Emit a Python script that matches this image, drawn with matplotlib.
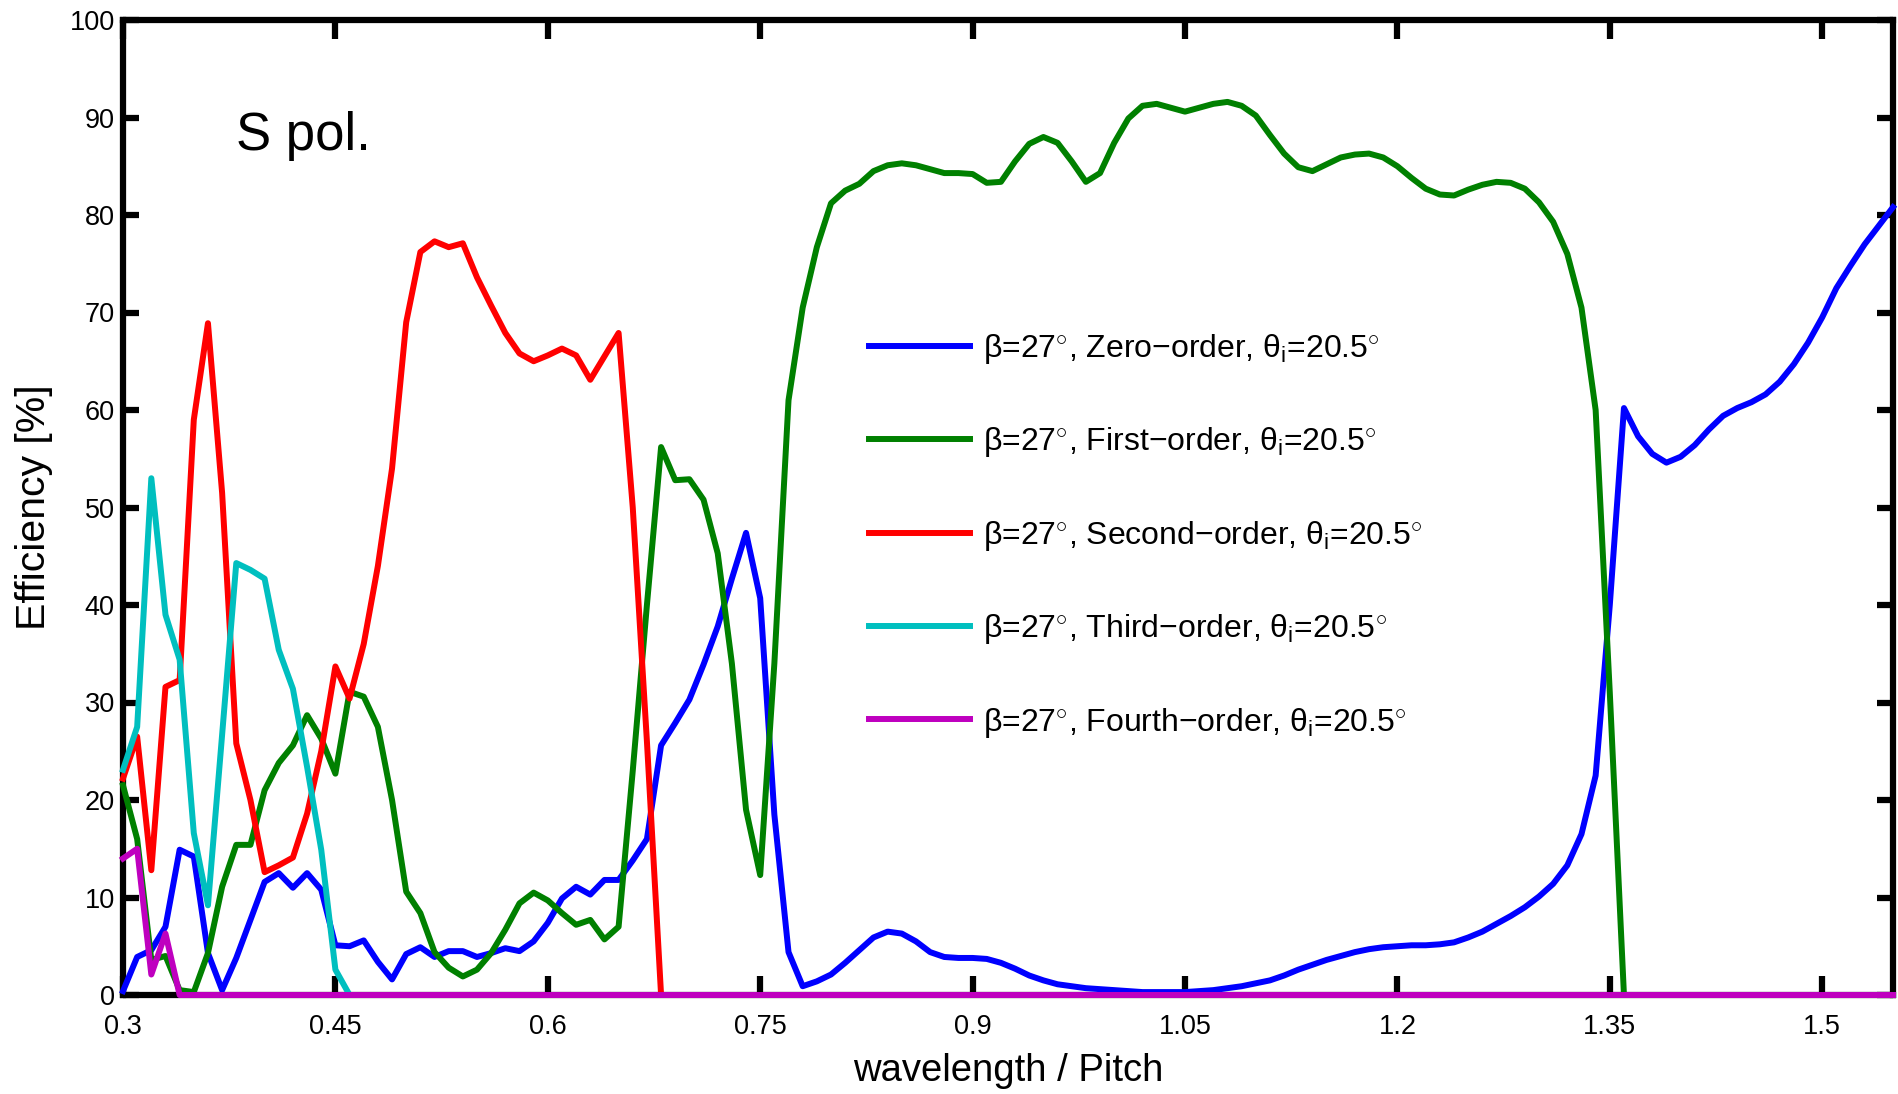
import numpy as np
import matplotlib
matplotlib.use('Agg')
import matplotlib.pyplot as plt

plt.rcParams['font.family'] = ['Liberation Sans', 'DejaVu Sans']
plt.rcParams['mathtext.fontset'] = 'custom'
plt.rcParams['mathtext.rm'] = 'Liberation Sans'
plt.rcParams['mathtext.it'] = 'Liberation Sans:italic'

# wavelength / pitch sampling grid (step 0.01)
wavelength = np.round(np.arange(0.30, 1.555, 0.01), 2)

# diffraction efficiencies in %, S polarisation, beta = 27 deg, theta_i = 20.5 deg
zero_order = [
    0.4, 3.9, 4.6, 7.0, 14.9, 14.2, 4.3, 0.5, 3.8, 7.7,
    11.6, 12.5, 11.0, 12.5, 10.8, 5.1, 5.0, 5.6, 3.4, 1.6,
    4.2, 4.9, 3.9, 4.5, 4.5, 3.9, 4.3, 4.8, 4.5, 5.5,
    7.4, 9.9, 11.1, 10.3, 11.8, 11.8, 13.8, 16.0, 25.6, 27.9,
    30.3, 33.9, 37.8, 42.7, 47.4, 40.7, 18.5, 4.4, 0.9, 1.4,
    2.1, 3.3, 4.6, 5.9, 6.5, 6.3, 5.5, 4.4, 3.9, 3.8,
    3.8, 3.7, 3.3, 2.7, 2.0, 1.5, 1.1, 0.9, 0.7, 0.6,
    0.5, 0.4, 0.3, 0.3, 0.3, 0.3, 0.4, 0.5, 0.7, 0.9,
    1.2, 1.5, 2.0, 2.6, 3.1, 3.6, 4.0, 4.4, 4.7, 4.9,
    5.0, 5.1, 5.1, 5.2, 5.4, 5.9, 6.5, 7.3, 8.1, 9.0,
    10.1, 11.4, 13.3, 16.5, 22.5, 40.0, 60.2, 57.3, 55.5, 54.6,
    55.2, 56.4, 58.0, 59.4, 60.2, 60.8, 61.6, 62.9, 64.7, 66.9,
    69.5, 72.5, 74.8, 77.0, 78.9, 80.8,
]
first_order = [
    21.5, 16.0, 3.6, 4.0, 0.5, 0.3, 4.3, 11.1, 15.4, 15.4,
    21.0, 23.8, 25.6, 28.7, 26.3, 22.7, 31.1, 30.6, 27.5, 20.0,
    10.6, 8.4, 4.4, 2.8, 1.9, 2.6, 4.3, 6.7, 9.4, 10.5,
    9.7, 8.4, 7.2, 7.7, 5.7, 7.0, 23.0, 40.0, 56.2, 52.8,
    52.9, 50.8, 45.3, 34.0, 19.0, 12.3, 34.0, 61.0, 70.5, 76.7,
    81.2, 82.5, 83.2, 84.5, 85.1, 85.3, 85.1, 84.7, 84.3, 84.3,
    84.2, 83.3, 83.4, 85.5, 87.3, 88.0, 87.4, 85.5, 83.4, 84.3,
    87.4, 89.9, 91.2, 91.4, 91.0, 90.6, 91.0, 91.4, 91.6, 91.2,
    90.2, 88.2, 86.3, 84.9, 84.5, 85.2, 85.9, 86.2, 86.3, 85.9,
    85.0, 83.8, 82.7, 82.1, 82.0, 82.6, 83.1, 83.4, 83.3, 82.7,
    81.3, 79.3, 76.0, 70.5, 60.0, 31.0, 0.0,
] + [0.0] * 19
second_order = [
    22.2, 26.5, 12.8, 31.6, 32.3, 59.0, 68.9, 51.5, 25.8, 20.0,
    12.6, 13.3, 14.1, 18.6, 25.0, 33.7, 30.4, 36.0, 44.0, 54.0,
    69.0, 76.2, 77.3, 76.7, 77.1, 73.6, 70.7, 67.9, 65.8, 65.0,
    65.6, 66.3, 65.6, 63.1, 65.5, 67.9, 50.0, 26.0, 0.0,
] + [0.0] * 87
third_order = [
    23.1, 27.5, 53.0, 39.0, 34.4, 16.6, 9.2, 26.7, 44.3, 43.6,
    42.7, 35.4, 31.4, 23.4, 14.9, 2.6, 0.0,
] + [0.0] * 109
fourth_order = [14.0, 15.0, 2.1, 6.3, 0.0] + [0.0] * 121

order_names = ['Zero', 'First', 'Second', 'Third', 'Fourth']
line_colors = ['#0000ff', '#008000', '#ff0000', '#00bfbf', '#bf00bf']

x_ticks = [0.3, 0.45, 0.6, 0.75, 0.9, 1.05, 1.2, 1.35, 1.5]
x_tick_labels = ['0.3', '0.45', '0.6', '0.75', '0.9', '1.05', '1.2', '1.35', '1.5']
y_ticks = list(range(0, 101, 10))

fig = plt.figure(figsize=(18.99, 10.94), dpi=100)
ax = fig.add_axes([123 / 1899, 1 - 995 / 1094, (1893 - 123) / 1899, (995 - 20) / 1094])

series = [zero_order, first_order, second_order, third_order, fourth_order]
for eff, name, col in zip(series, order_names, line_colors):
    label = ('\u03b2=27$^{\\circ}$, ' + name + '\u2212order, '
             '\u03b8$_{\\mathrm{i}}$=20.5$^{\\circ}$')
    ax.plot(wavelength, eff, color=col, lw=4.3, label=label,
            clip_on=False, zorder=3)

ax.set_xlim(0.3, 1.55)
ax.set_ylim(0, 100)
ax.set_xticks(x_ticks)
ax.set_xticklabels(x_tick_labels)
ax.set_yticks(y_ticks)

ax.tick_params(direction='in', top=True, right=True, width=4.5,
               labelsize=19.5, colors='black')
ax.tick_params(axis='x', length=14, pad=14)
ax.tick_params(axis='y', length=11.5, pad=6)
for s in ax.spines.values():
    s.set_linewidth(4.5)

ax.set_xlabel('wavelength / Pitch', fontsize=27.5, labelpad=9)
ax.set_ylabel('Efficiency [%]', fontsize=29.5, labelpad=12)

ax.text(0.38, 86.7, 'S pol.', fontsize=38, va='baseline')

ax.legend(loc='upper left', bbox_to_anchor=(869 / 1899, 1 - 332 / 1094),
          bbox_transform=fig.transFigure, frameon=False, fontsize=23,
          borderaxespad=0, borderpad=0, handlelength=3.15, handletextpad=0.42,
          labelspacing=1.86)

fig.savefig('out.png', dpi=100)
plt.close(fig)
